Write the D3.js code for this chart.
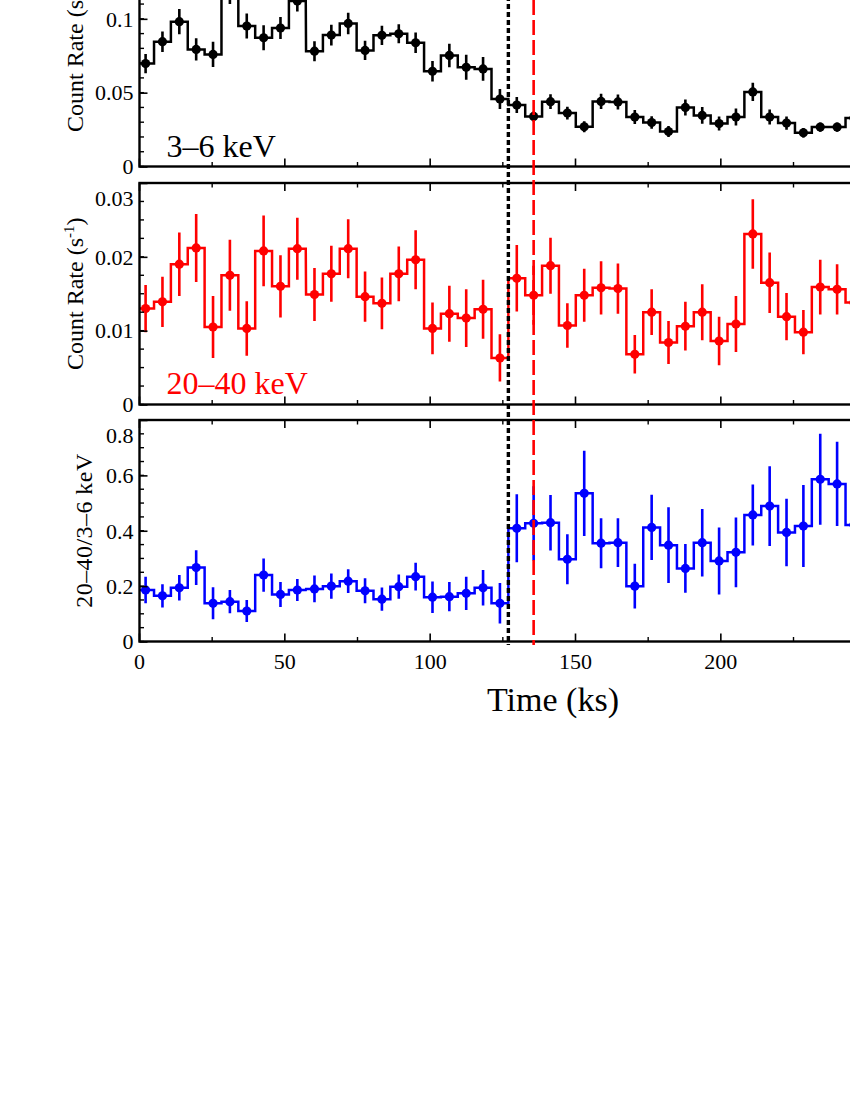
<!DOCTYPE html>
<html>
<head>
<meta charset="utf-8">
<script src="https://cdn.jsdelivr.net/npm/d3@7/dist/d3.min.js"></script>
<style>
  html, body { margin: 0; padding: 0; background: #fff; }
  svg { display: block; }
  text { font-family: "Liberation Serif", "DejaVu Serif", serif; }
</style>
</head>
<body>
<svg id="chart" width="850" height="1100"></svg>
<script>
// ---------------- data ----------------
const timeKs = [2.1, 7.9, 13.7, 19.5, 25.3, 31.1, 36.9, 42.7, 48.5, 54.3, 60.2, 66.0, 71.8, 77.6, 83.4,
  89.2, 95.0, 100.8, 106.6, 112.4, 118.2, 124.0, 129.8, 135.6, 141.4, 147.2, 153.0, 158.8, 164.6,
  170.4, 176.2, 182.0, 187.8, 193.6, 199.4, 205.2, 211.0, 216.8, 222.6, 228.4, 234.2, 240.0, 245.8];
const binHalfWidth = 2.9;

const rate3to6 = [0.0697, 0.0845, 0.0981, 0.0793, 0.0759, 0.118, 0.0951, 0.0872, 0.0938, 0.112,
  0.0781, 0.0890, 0.0969, 0.0786, 0.0888, 0.0899, 0.0838, 0.0645, 0.0752, 0.0672, 0.0661,
  0.0457, 0.0416, 0.0339, 0.0439, 0.0362, 0.0269, 0.0441, 0.0437, 0.0335, 0.0298, 0.0237,
  0.0400, 0.0346, 0.0291, 0.0335, 0.0505, 0.0335, 0.0294, 0.0228, 0.0267, 0.0267, 0.0328];
const err3to6 = [0.0065, 0.007, 0.0085, 0.0075, 0.0085, 0.008, 0.0085, 0.0085, 0.0075, 0.007,
  0.0068, 0.007, 0.0073, 0.0065, 0.0065, 0.0065, 0.007, 0.007, 0.008, 0.0085, 0.008,
  0.0068, 0.0054, 0.0034, 0.005, 0.0043, 0.0037, 0.0052, 0.0051, 0.0048, 0.0043, 0.0037,
  0.0054, 0.0057, 0.0048, 0.0057, 0.0062, 0.0051, 0.0045, 0.0032, 0.0031, 0.0031, 0.004];

const rate20to40 = [0.0130, 0.0139, 0.0190, 0.0212, 0.0105, 0.0175, 0.0103, 0.0208, 0.0160, 0.0211,
  0.0149, 0.0177, 0.0211, 0.0146, 0.0137, 0.0177, 0.0196, 0.0103, 0.0123, 0.0117, 0.0129,
  0.0063, 0.0171, 0.0148, 0.0188, 0.0107, 0.0148, 0.0158, 0.0157, 0.0068, 0.0125, 0.0084,
  0.0106, 0.0125, 0.0086, 0.0109, 0.0231, 0.0165, 0.0119, 0.0098, 0.0159, 0.0156, 0.0138];
const err20to40 = [0.0032, 0.0034, 0.0043, 0.0046, 0.0042, 0.0048, 0.0037, 0.0048, 0.0042, 0.0042,
  0.0036, 0.0038, 0.0040, 0.0034, 0.0035, 0.0037, 0.0040, 0.0035, 0.0038, 0.0039, 0.0040,
  0.0032, 0.0045, 0.0040, 0.0038, 0.0030, 0.0036, 0.0036, 0.0034, 0.0026, 0.0031, 0.0029,
  0.0033, 0.0038, 0.0033, 0.0038, 0.0047, 0.0041, 0.0032, 0.0030, 0.0037, 0.0034, 0.0035];

const hardRatio = [0.186, 0.165, 0.194, 0.267, 0.138, 0.144, 0.110, 0.240, 0.170, 0.186,
  0.190, 0.200, 0.218, 0.183, 0.153, 0.198, 0.234, 0.160, 0.162, 0.174, 0.194,
  0.138, 0.409, 0.427, 0.429, 0.297, 0.535, 0.355, 0.357, 0.200, 0.412, 0.348,
  0.264, 0.357, 0.291, 0.322, 0.457, 0.489, 0.394, 0.417, 0.586, 0.569, 0.421];
const errRatio = [0.048, 0.042, 0.046, 0.063, 0.058, 0.042, 0.040, 0.060, 0.045, 0.040,
  0.048, 0.046, 0.043, 0.045, 0.042, 0.044, 0.050, 0.057, 0.053, 0.060, 0.064,
  0.073, 0.123, 0.134, 0.100, 0.090, 0.154, 0.090, 0.088, 0.081, 0.118, 0.137,
  0.088, 0.122, 0.121, 0.126, 0.110, 0.144, 0.122, 0.148, 0.164, 0.152, 0.120];

const xTickValues = [0, 50, 100, 150, 200, 250];
const ticksTop = [0, 0.05, 0.1];
const ticksMid = [0, 0.01, 0.02, 0.03];
const ticksBot = [0, 0.2, 0.4, 0.6, 0.8];
const xLabel = "Time (ks)";
const panelLabels = ["3\u20136 keV", "20\u201340 keV"];
const ratioLabel = "20\u201340/3\u20136 keV";
const markerBlackKs = 126.9;   // black dotted line
const markerRedKs = 135.6;     // red dashed line

// ---------------- layout ----------------
const svg = d3.select("#chart");
const left = 139.5, right = 965;
const x = d3.scaleLinear().domain([0, 284]).range([left, right]);

const panels = [
  { id: "p1", y0: -55, y1: 166.5, domain: [0, 0.15], ticks: ticksTop, minorStep: 0.01,
    fmt: d => d === 0 ? "0" : d3.format("")(d), vals: rate3to6, errs: err3to6, color: "#000000" },
  { id: "p2", y0: 183, y1: 404.5, domain: [0, 0.03], ticks: ticksMid, minorStep: 0.0025,
    fmt: d => d === 0 ? "0" : d3.format(".2f")(d), vals: rate20to40, errs: err20to40, color: "#ff0000" },
  { id: "p3", y0: 420, y1: 641.5, domain: [0, 0.8], ticks: ticksBot, minorStep: 0.05,
    fmt: d => d === 0 ? "0" : d3.format(".1f")(d), vals: hardRatio, errs: errRatio, color: "#0000ff" }
];

const defs = svg.append("defs");

panels.forEach((p, pi) => {
  const y = d3.scaleLinear().domain(p.domain).range([p.y1, p.y0]);
  p.y = y;
  defs.append("clipPath").attr("id", "clip-" + p.id)
    .append("rect").attr("x", left).attr("y", p.y0).attr("width", right - left).attr("height", p.y1 - p.y0);

  const g = svg.append("g");
  const dg = g.append("g").attr("clip-path", "url(#clip-" + p.id + ")");

  // step histogram
  const stepPts = [];
  timeKs.forEach((t, i) => {
    stepPts.push([t - binHalfWidth, p.vals[i]]);
    stepPts.push([t + binHalfWidth, p.vals[i]]);
  });
  const line = d3.line().x(d => x(d[0])).y(d => y(d[1]));
  dg.append("path").attr("d", line(stepPts))
    .attr("fill", "none").attr("stroke", p.color).attr("stroke-width", 2.5)
    .attr("stroke-linejoin", "miter");

  // error bars
  dg.selectAll("line.err").data(timeKs).join("line")
    .attr("x1", d => x(d)).attr("x2", d => x(d))
    .attr("y1", (d, i) => y(p.vals[i] - p.errs[i]))
    .attr("y2", (d, i) => y(p.vals[i] + p.errs[i]))
    .attr("stroke", p.color).attr("stroke-width", 2.6);

  // markers
  dg.selectAll("circle").data(timeKs).join("circle")
    .attr("cx", d => x(d)).attr("cy", (d, i) => y(p.vals[i]))
    .attr("r", 4.6).attr("fill", p.color);

  // frame
  g.append("rect").attr("x", left).attr("y", p.y0).attr("width", right - left).attr("height", p.y1 - p.y0)
    .attr("fill", "none").attr("stroke", "#000").attr("stroke-width", 2.4);

  // x ticks (bottom and top, inward)
  const xMinor = d3.range(0, 285, 25).filter(v => v % 50 !== 0);
  const xt = g.append("g");
  xTickValues.forEach(v => {
    xt.append("line").attr("x1", x(v)).attr("x2", x(v)).attr("y1", p.y1).attr("y2", p.y1 - 8)
      .attr("stroke", "#000").attr("stroke-width", 1.6);
    xt.append("line").attr("x1", x(v)).attr("x2", x(v)).attr("y1", p.y0).attr("y2", p.y0 + 8)
      .attr("stroke", "#000").attr("stroke-width", 1.6);
  });
  xMinor.forEach(v => {
    xt.append("line").attr("x1", x(v)).attr("x2", x(v)).attr("y1", p.y1).attr("y2", p.y1 - 4.5)
      .attr("stroke", "#000").attr("stroke-width", 1.4);
    xt.append("line").attr("x1", x(v)).attr("x2", x(v)).attr("y1", p.y0).attr("y2", p.y0 + 4.5)
      .attr("stroke", "#000").attr("stroke-width", 1.4);
  });

  // y axis with major ticks (inward) via d3.axisLeft
  const yAxis = d3.axisLeft(y).tickValues(p.ticks).tickSize(-8).tickPadding(14).tickFormat(p.fmt);
  const ya = g.append("g").attr("transform", `translate(${left},0)`).call(yAxis);
  ya.select(".domain").remove();
  ya.selectAll(".tick line").attr("stroke", "#000").attr("stroke-width", 1.6);
  ya.selectAll(".tick text").attr("font-size", 22).attr("fill", "#000")
    .attr("font-family", "'Liberation Serif', serif")
    .attr("dy", (d) => d === p.domain[1] ? "1.0em" : "0.33em")
    .attr("x", -6);
  // minor y ticks
  const nMinor = Math.round((p.domain[1] - p.domain[0]) / p.minorStep);
  const minorVals = d3.range(0, nMinor + 1).map(k => p.domain[0] + k * p.minorStep);
  minorVals.forEach(v => {
    g.append("line").attr("x1", left).attr("x2", left + 4.5).attr("y1", y(v)).attr("y2", y(v))
      .attr("stroke", "#000").attr("stroke-width", 1.4);
    g.append("line").attr("x1", right).attr("x2", right - 4.5).attr("y1", y(v)).attr("y2", y(v))
      .attr("stroke", "#000").attr("stroke-width", 1.4);
  });

  // x tick labels only on bottom panel
  if (pi === 2) {
    xTickValues.forEach(v => {
      svg.append("text").attr("x", x(v)).attr("y", 669).attr("text-anchor", "middle")
        .attr("font-size", 22).attr("fill", "#000").text(v);
    });
  }
});

// y-axis titles
function countRateLabel(cy, bx) {
  const t = svg.append("text")
    .attr("transform", `translate(${bx},${cy}) rotate(-90)`)
    .attr("text-anchor", "middle").attr("font-size", 24).attr("fill", "#000");
  t.append("tspan").text("Count Rate (s");
  t.append("tspan").attr("font-size", 15).attr("dy", -9).text("-1");
  t.append("tspan").attr("dy", 9).text(")");
}
countRateLabel((panels[0].y0 + panels[0].y1) / 2, 82.5);
countRateLabel((panels[1].y0 + panels[1].y1) / 2, 82.5);

svg.append("text")
  .attr("transform", `translate(91.5,${(panels[2].y0 + panels[2].y1) / 2}) rotate(-90)`)
  .attr("text-anchor", "middle").attr("font-size", 24).attr("fill", "#000")
  .attr("textLength", 154).attr("lengthAdjust", "spacing")
  .text(ratioLabel);

// panel energy labels
svg.append("text").attr("x", 166.5).attr("y", 156.5).attr("font-size", 32).attr("fill", "#000").text(panelLabels[0]);
svg.append("text").attr("x", 166.5).attr("y", 393.5).attr("font-size", 32).attr("fill", "#ff0000").text(panelLabels[1]);

// x label
svg.append("text").attr("x", 553).attr("y", 711).attr("text-anchor", "middle")
  .attr("font-size", 34).attr("fill", "#000").text(xLabel);

// vertical marker lines
svg.append("line").attr("x1", x(markerBlackKs)).attr("x2", x(markerBlackKs))
  .attr("y1", -60).attr("y2", 645)
  .attr("stroke", "#000").attr("stroke-width", 3.4).attr("stroke-dasharray", "5,3");
svg.append("line").attr("x1", x(markerRedKs)).attr("x2", x(markerRedKs))
  .attr("y1", -60).attr("y2", 645)
  .attr("stroke", "#ff0000").attr("stroke-width", 2.6).attr("stroke-dasharray", "15,5");
</script>
</body>
</html>
